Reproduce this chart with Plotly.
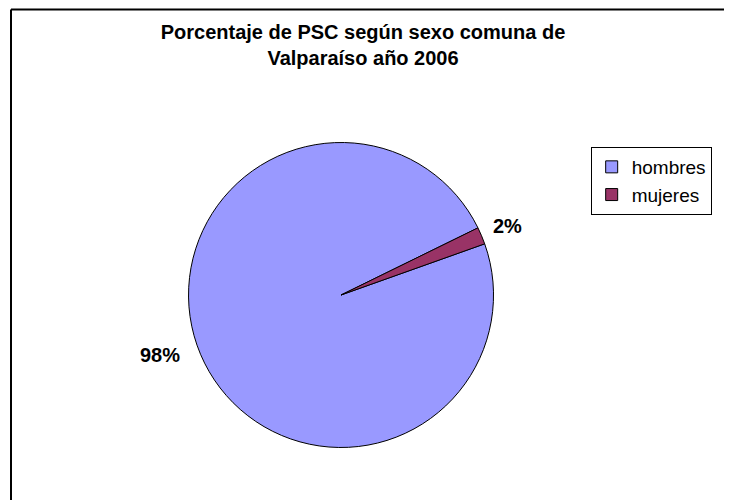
import plotly.graph_objects as go

labels = ["hombres", "mujeres"]
values = [271, 5]
colors = ["#9999FF", "#993366"]

title_text = "<b>Porcentaje de PSC según sexo comuna de<br>Valparaíso año 2006</b>"

total = sum(values)
pct = [f"<b>{round(v / total * 100)}%</b>" for v in values]

fig = go.Figure(go.Pie(
    labels=labels,
    values=values,
    sort=False,
    direction="clockwise",
    rotation=70.4,
    marker=dict(colors=colors, line=dict(color="black", width=1)),
    textinfo="none",
    hoverinfo="label+percent",
    domain=dict(x=[0.2466, 0.6633], y=[0.121, 0.731]),
))

fig.update_layout(
    width=732, height=500,
    margin=dict(l=0, r=0, t=0, b=0),
    paper_bgcolor="white",
    font=dict(family="Liberation Sans, Arial", color="black"),
    title=dict(text=title_text, x=0.485, xanchor="center", y=0.938, yanchor="middle",
               font=dict(size=20)),
    legend=dict(
        x=0.796, y=0.722, xanchor="left", yanchor="top",
        bordercolor="black", borderwidth=1,
        font=dict(size=19), itemwidth=30,
    ),
    shapes=[
        dict(type="line", xref="paper", yref="paper", x0=0.0041, x1=1.0, y0=0.997, y1=0.997,
             line=dict(color="black", width=2)),
        dict(type="line", xref="paper", yref="paper", x0=0.0041, x1=0.0041, y0=0.0, y1=0.997,
             line=dict(color="black", width=2)),
    ],
    annotations=[
        dict(text=pct[0], x=0.2077, y=0.306, xref="paper", yref="paper",
             xanchor="center", yanchor="middle", showarrow=False, font=dict(size=20)),
        dict(text=pct[1], x=0.683, y=0.564, xref="paper", yref="paper",
             xanchor="center", yanchor="middle", showarrow=False, font=dict(size=20)),
    ],
)

fig.write_html("out.html")
